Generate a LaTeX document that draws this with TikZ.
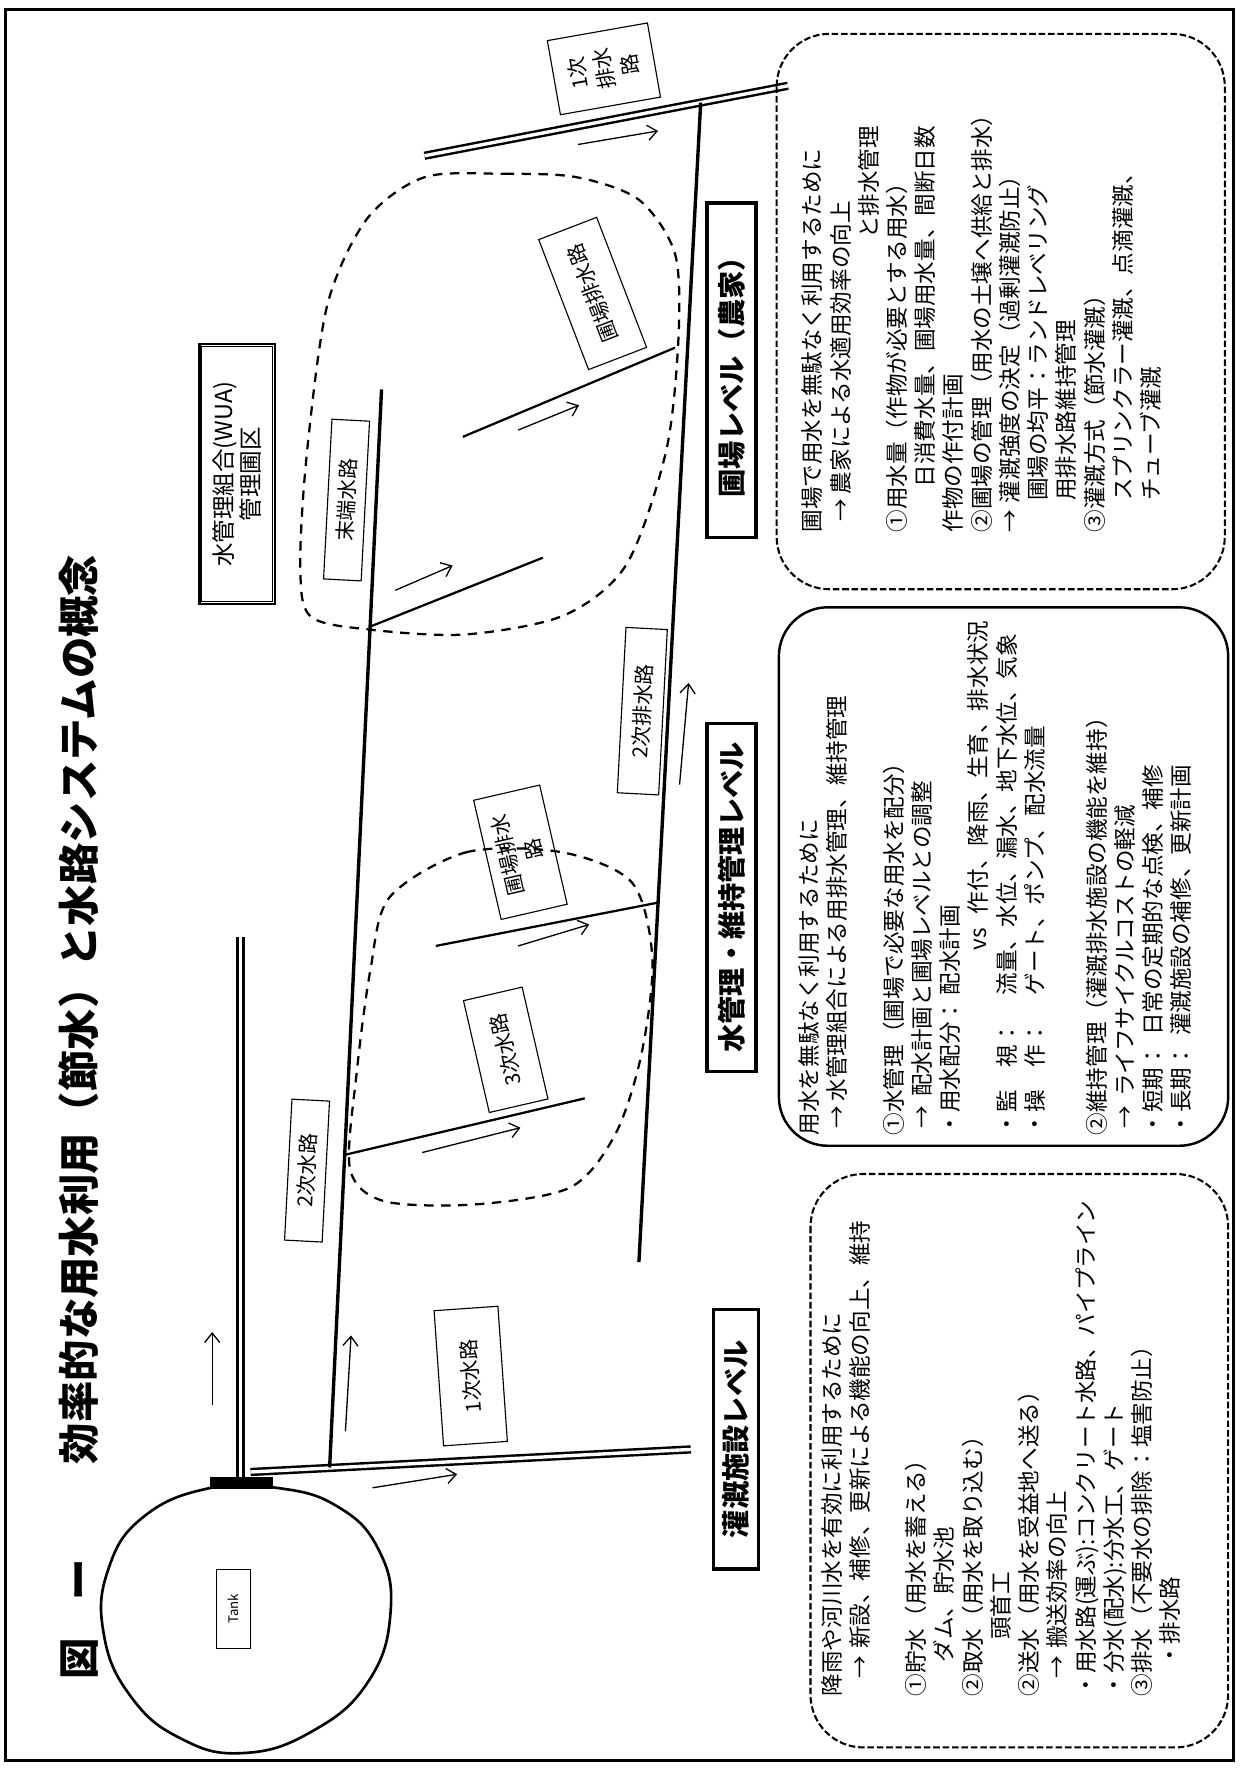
\documentclass[tikz,border=0pt]{standalone}
\usepackage{fontspec}
\setmainfont{Noto Sans CJK JP}
\usetikzlibrary{arrows.meta,calc}

\begin{document}
\begin{tikzpicture}[%
    x=0.6pt,
    y=-0.6pt,
    canalName/.style={
      rectangle,
      draw,
      line width=0.6pt,
      align=center,
      inner sep=1pt,
      font=\fontsize{11pt}{14pt}\selectfont
    },
    levelName/.style={
      rectangle,
      draw,
      line width=1.8pt,
      rotate=90,
      align=center,
      font=\fontsize{15pt}{17pt}\selectfont\bfseries
    },
    explanation/.style={
      anchor=north west,
      rotate=90,
      inner sep=0pt,
      align=left,
      font=\fontsize{12pt}{15pt}\selectfont
    },
    canal/.style={line width=1.8pt},
    canalDouble/.style={double, double distance=1.8pt, line width=1.3pt},
    branch/.style={line width=1.2pt},
    flow/.style={line width=0.7pt, -{Straight Barb[length=5pt,width=8pt]}},
    area/.style={line width=1.2pt, dash pattern=on 5pt off 4pt},
    dashedFrame/.style={line width=1.1pt, dash pattern=on 3.5pt off 1.5pt, rounded corners=28pt},
    solidFrame/.style={line width=1.3pt, rounded corners=26pt}
  ]
    \useasboundingbox (0,0) rectangle (1100,1568);

    % Big frame
    \draw[line width=1.6pt] (5,8) rectangle (1093,1560);

    % Title
    \draw (70,1488) node[rotate=90, anchor=west, inner sep=0pt,
      font=\fontsize{22pt}{24pt}\selectfont\bfseries] (title)
      {図\hspace{0.9em}ー\hspace{2.3em}効率的な用水利用（節水）と水路システムの概念};

    % Tank
    \draw[line width=1.4pt] plot[smooth cycle, tension=0.75] coordinates {
      (245,1318) (298,1334) (335,1372) (346,1428) (326,1490) (276,1534)
      (215,1553) (160,1540) (116,1503) (92,1448) (96,1390) (128,1343) (187,1318)};
    \fill (186,1308) rectangle (242,1319);

    % Canal lines
    \coordinate (tankOut) at (213,1308);
    \coordinate (mainEnd) at (213,830);
    \coordinate (c1Start) at (222,1304);
    \coordinate (c1End) at (612,1284);
    \coordinate (c2Start) at (292,1300);
    \coordinate (c2End) at (338,345);
    \coordinate (d1Start) at (376,138);
    \coordinate (d1End) at (698,76);
    \coordinate (d2Start) at ($(d1Start)!0.76!(d1End)$);
    \coordinate (d2End) at (566,1118);

    \draw[canalDouble] (tankOut) -- (mainEnd);
    \draw[canalDouble] (c1Start) -- (c1End);
    \draw[canalDouble] (d1Start) -- (d1End);
    \draw[canal] (c2Start) -- (c2End);
    \draw[canal] (d2Start) -- (d2End);

    % Field channels
    \draw[branch] ($(c2Start)!0.29!(c2End)$) -- (518,973);
    \draw[branch] (386,838) -- ($(d2Start)!0.69!(d2End)$);
    \draw[branch] ($(c2Start)!0.78!(c2End)$) -- (481,494);
    \draw[branch] (410,387) -- (598,308);

    % Flow arrows
    \draw[flow] (188,1245) -- (188,1180);
    \draw[flow] (330,1318) -- (405,1306);
    \draw[flow] (306,1268) -- (311,1183);
    \draw[flow] (374,1021) -- (461,999);
    \draw[flow] (459,838) -- (522,819);
    \draw[flow] (350,523) -- (401,501);
    \draw[flow] (459,381) -- (513,359);
    \draw[flow] (602,695) -- (610,605);
    \draw[flow] (512,128) -- (583,116);

    % Farm blocks
    \draw[area] plot[smooth cycle] coordinates {
      (376,157) (447,154) (511,157) (566,177) (598,225) (601,300) (590,400)
      (555,500) (500,545) (413,562) (330,558) (275,546) (266,500) (272,400)
      (290,270) (325,194)};
    \draw[area] plot[smooth cycle] coordinates {
      (345,795) (413,755) (498,755) (560,782) (578,850) (568,935) (545,1005)
      (505,1052) (420,1067) (340,1064) (310,1035) (316,950) (328,860)};

    \draw (207,1425) node[canalName, rotate=90, minimum width=42pt, minimum height=18pt,
            font=\fontsize{7pt}{8pt}\selectfont] (tank) {Tank}
          (417,1219) node[canalName, rotate=94, minimum width=72pt, minimum height=34pt] (c1Name) {1次水路}
          (272,1037) node[canalName, rotate=87, minimum width=75pt, minimum height=20pt] (c2Name) {2次水路}
          (448,930) node[canalName, rotate=103, minimum width=61pt, minimum height=32pt] (c3Name) {3次水路}
          (461,755) node[canalName, rotate=103, minimum width=65pt, minimum height=36pt] (f1Name) {圃場排水\\路}
          (307,443) node[canalName, rotate=87, minimum width=85pt, minimum height=20pt] (endName) {末端水路}
          (525,260) node[canalName, rotate=111, minimum width=74pt, minimum height=33pt] (f2Name) {圃場排水路}
          (569,630) node[canalName, rotate=87, minimum width=88pt, minimum height=22pt] (d2Name) {2次排水路}
          (535,61) node[canalName, rotate=100, minimum width=40pt, minimum height=54pt] (d1Name) {1次\\排水\\路}
          (210,420) node[canalName, rotate=90, line width=1.2pt,
            minimum width=138pt, minimum height=40pt,
            font=\fontsize{12.5pt}{14pt}\selectfont] (wua)
            {水管理組合(WUA)\\管理圃区};
    % inner border of the WUA box
    \draw[line width=0.5pt] ($(wua.north west)+(3,-3)$) rectangle ($(wua.south east)+(-3,3)$);

    % Levels
    \draw (648,328) node[levelName, minimum width=178pt, minimum height=26pt] (farmLevel) {圃場レベル（農家）}
          (648,795) node[levelName, minimum width=185pt, minimum height=26pt] (wuaLevel) {水管理・維持管理レベル}
          (652,1275) node[levelName, minimum width=138pt, minimum height=24pt] (facilityLevel) {灌漑施設レベル};

    % Explanation boxes
    \draw[dashedFrame] (688,30) rectangle (1085,522);
    \draw[solidFrame] (690,538) rectangle (1088,1015);
    \draw[dashedFrame] (718,1040) rectangle (1088,1548);

    \draw (710,472) node[explanation] (farmText) {
      圃場で用水を無駄なく利用するために\\
      \hspace*{0.5em}→\hspace{0.2em}農家による水適用効率の向上\\
      \hspace*{13em}と排水管理\\
      ①用水量（作物が必要とする用水）\\
      \hspace*{2em}日消費水量、圃場用水量、間断日数\\
      作物の作付計画\\
      ②圃場の管理（用水の土壌へ供給と排水）\\
      →\hspace{0.3em}灌漑強度の決定（過剰灌漑防止）\\
      \hspace*{1.4em}圃場の均平：ランドレベリング\\
      \hspace*{1.4em}用排水路維持管理\\
      ③灌漑方式（節水灌漑）\\
      \hspace*{1.4em}スプリンクラー灌漑、点滴灌漑、\\
      \hspace*{1.4em}チューブ灌漑}
          (707,1006) node[explanation] (wuaText) {
      用水を無駄なく利用するために\\
      \hspace*{0.3em}→\hspace{0.2em}水管理組合による用排水管理、維持管理\\[15pt]
      ①水管理（圃場で必要な用水を配分）\\
      \hspace*{0.3em}→\hspace{0.4em}配水計画と圃場レベルとの調整\\
      \makebox[6.2em][l]{・用水配分：}配水計画\\
      \hspace*{8.2em}vs\hspace{0.6em}作付、降雨、生育、排水状況\\
      \makebox[6.2em][l]{・監\hspace{1em}視：}流量、水位、漏水、地下水位、気象\\
      \makebox[6.2em][l]{・操\hspace{1em}作：}ゲート、ポンプ、配水流量\\[18pt]
      ②維持管理（灌漑排水施設の機能を維持）\\
      \hspace*{0.3em}→\hspace{0.4em}ライフサイクルコストの軽減\\
      \makebox[4.4em][l]{・短期：}日常の定期的な点検、補修\\
      \makebox[4.4em][l]{・長期：}灌漑施設の補修、更新計画}
          (727,1503) node[explanation] (facilityText) {
      降雨や河川水を有効に利用するために\\
      \hspace*{0.8em}→\hspace{0.3em}新設、補修、更新による機能の向上、維持\\[15pt]
      ①貯水（用水を蓄える）\\
      \hspace*{1.5em}ダム、貯水池\\
      ②取水（用水を取り込む）\\
      \hspace*{2.5em}頭首工\\
      ②送水（用水を受益地へ送る）\\
      \hspace*{0.8em}→\hspace{0.3em}搬送効率の向上\\
      ・用水路(運ぶ):コンクリート水路、パイプライン\\
      ・分水(配水):分水工、ゲート\\
      ③排水（不要水の排除：塩害防止）\\
      \hspace*{1.3em}・排水路};
\end{tikzpicture}
\end{document}
